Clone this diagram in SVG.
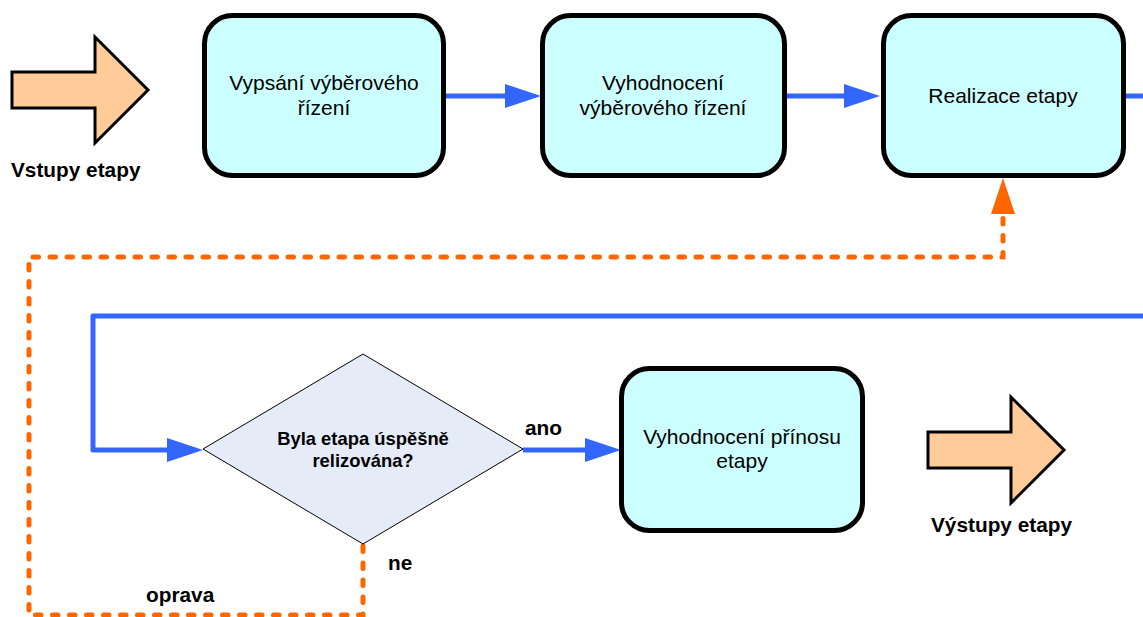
<svg xmlns="http://www.w3.org/2000/svg" width="1143" height="617" viewBox="0 0 1143 617">
  <style>
    .step { fill: #CCFFFF; stroke: #000; stroke-width: 5; }
    .big-arrow { fill: #FFCC99; stroke: #000; stroke-width: 3; stroke-linejoin: miter; }
    .decision { fill: #E6ECF7; stroke: #000; stroke-width: 1; }
    .flow { fill: none; stroke: #3366FF; stroke-width: 5; stroke-linejoin: round; }
    .fix { fill: none; stroke: #FF6600; stroke-width: 5; stroke-linecap: round; stroke-dasharray: 5.5 11.5; }
    .t { font-family: "Liberation Sans", Arial, sans-serif; font-size: 21px; fill: #000; text-anchor: middle; }
    .b { font-family: "Liberation Sans", Arial, sans-serif; font-size: 20.8px; font-weight: bold; fill: #000; }
    .q { font-family: "Liberation Sans", Arial, sans-serif; font-size: 18.4px; font-weight: bold; fill: #000; text-anchor: middle; }
  </style>
  <defs>
    <marker id="head-blue" markerUnits="userSpaceOnUse" markerWidth="36" markerHeight="24" refX="0" refY="12" orient="auto">
      <path d="M0,0 L36,12 L0,24 z" fill="#3366FF"/>
    </marker>
  </defs>

  <!-- connectors -->
  <g id="connectors">
    <path class="flow" d="M446,96 H505" marker-end="url(#head-blue)"/>
    <path class="flow" d="M787,96 H844" marker-end="url(#head-blue)"/>
    <path class="flow" d="M1126,96 H1170 V316 H93 V450 H167" marker-end="url(#head-blue)"/>
    <path class="flow" d="M523,450 H585" marker-end="url(#head-blue)"/>
    <path class="fix" d="M363,546 V615 H29 V257 H1003 V214"/>
    <path d="M991,214 L1003,178 L1015,214 z" fill="#FF6600"/>
    <text class="b" x="525" y="435">ano</text>
    <text class="b" x="388" y="570">ne</text>
    <text class="b" x="146" y="602">oprava</text>
  </g>

  <!-- stage inputs -->
  <g id="inputs">
    <path class="big-arrow" d="M12,72 H95 V37 L148,90 L95,143 V108 H12 z"/>
    <text class="b" x="11" y="177">Vstupy etapy</text>
  </g>

  <g id="tender">
    <rect class="step" x="204.5" y="15.5" width="239" height="160" rx="28"/>
    <text class="t" x="324" y="90">Vypsání výběrového</text>
    <text class="t" x="324" y="115">řízení</text>
  </g>

  <g id="tender-evaluation">
    <rect class="step" x="542.5" y="15.5" width="242" height="160" rx="28"/>
    <text class="t" x="663" y="90">Vyhodnocení</text>
    <text class="t" x="663" y="115">výběrového řízení</text>
  </g>

  <g id="realization">
    <rect class="step" x="883.5" y="15.5" width="240" height="160" rx="28"/>
    <text class="t" x="1003" y="103">Realizace etapy</text>
  </g>

  <g id="decision">
    <polygon class="decision" points="363,354 523,449 363,544 203,449"/>
    <text class="q" x="363" y="445">Byla etapa úspěšně</text>
    <text class="q" x="363" y="467">relizována?</text>
  </g>

  <g id="benefit-evaluation">
    <rect class="step" x="621.5" y="368.5" width="241" height="162" rx="28"/>
    <text class="t" x="742" y="444">Vyhodnocení přínosu</text>
    <text class="t" x="742" y="468">etapy</text>
  </g>

  <!-- stage outputs -->
  <g id="outputs">
    <path class="big-arrow" d="M928,432 H1011 V397 L1064,450 L1011,503 V468 H928 z"/>
    <text class="b" x="931" y="532">Výstupy etapy</text>
  </g>
</svg>
